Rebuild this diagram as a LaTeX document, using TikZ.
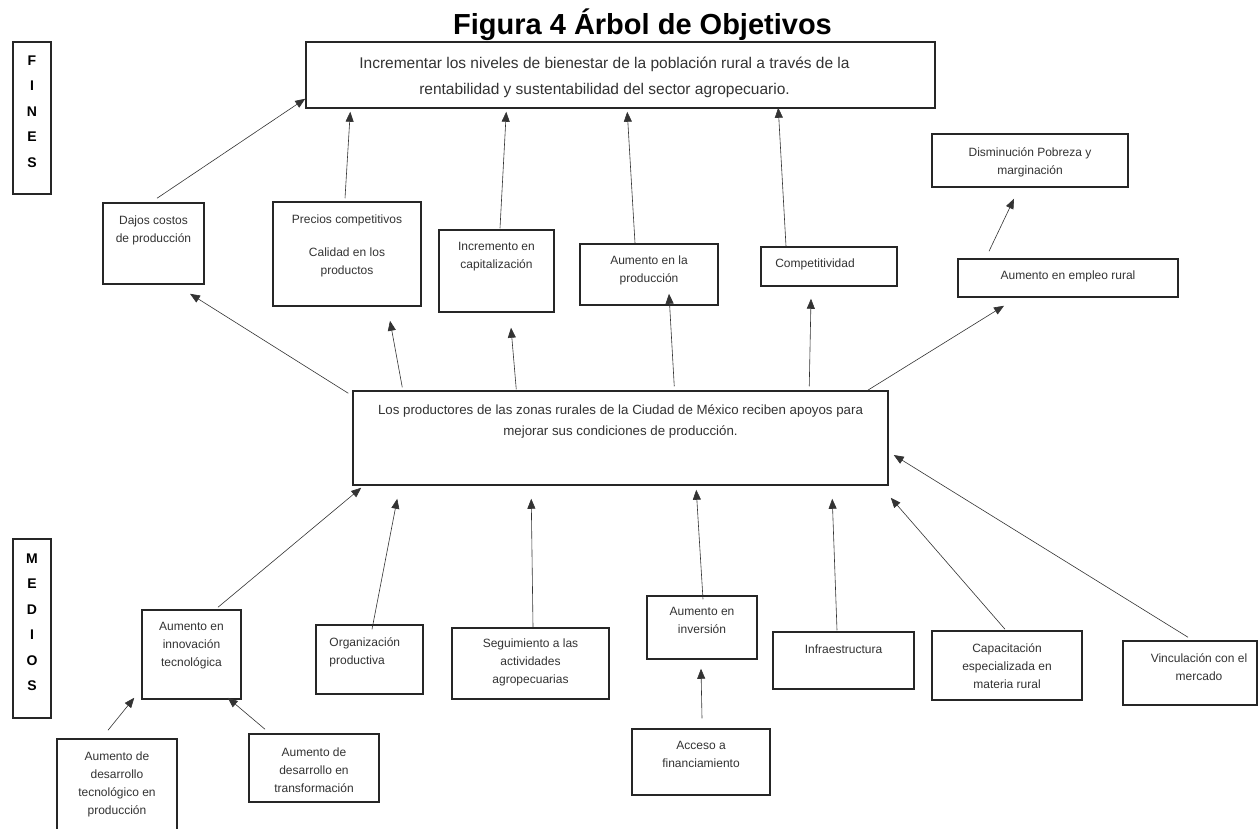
\documentclass[tikz,border=0pt]{standalone}
\usepackage{fontspec}
\setmainfont{Liberation Sans}
\usetikzlibrary{arrows.meta,positioning,calc}
\begin{document}
\begin{tikzpicture}[x=1pt,y=-1pt,
  box/.style={draw=black!85, line width=1.5pt, inner sep=0pt},
  txt/.style={font=\fontsize{12}{18}\selectfont, text=black!80, align=center, inner sep=0pt},
  sidetxt/.style={font=\fontsize{14}{25.5}\selectfont\bfseries, align=center, inner sep=0pt},
  arr/.style={draw=black!80, line width=0.6pt, -{Triangle[length=10pt,width=8pt]}}]
\useasboundingbox (0,0) rectangle (1260,829);
\fill[white] (0,0) rectangle (1260,829);
\node[font=\fontsize{29}{30}\selectfont\bfseries] (titulo) at (642.5,25) {Figura 4 Árbol de Objetivos};
\node[box, minimum width=38, minimum height=152] (fines) at (32,118) {};
\node[sidetxt, below=14pt of fines.north] (finesT) {F\\I\\N\\E\\S};
\node[box, minimum width=38, minimum height=179] (medios) at (32,628.5) {};
\node[sidetxt, below=15pt of medios.north] (mediosT) {M\\E\\D\\I\\O\\S};
\node[box, minimum width=629, minimum height=66] (fin) at (620.5,75) {};
\node[txt, font=\fontsize{15.5}{26}\selectfont, below=16pt of fin.north, xshift=-16pt] (finT)
  {Incrementar los niveles de bienestar de la población rural a través de la\\rentabilidad y sustentabilidad del sector agropecuario.};
\node[box, minimum width=101, minimum height=81] (dajos) at (153.5,243.5) {};
\node[txt, below=13pt of dajos.north] (dajosT) {Dajos costos\\de producción};
\node[box, minimum width=148, minimum height=104] (precios) at (347,254) {};
\node[txt, below=13pt of precios.north] (preciosT) {Precios competitivos\\[15pt]Calidad en los\\productos};
\node[box, minimum width=115, minimum height=82] (capital) at (496.5,271) {};
\node[txt, below=13pt of capital.north] (capitalT) {Incremento en\\capitalización};
\node[box, minimum width=138, minimum height=61] (produc) at (649,274.5) {};
\node[txt, below=12pt of produc.north] (producT) {Aumento en la\\producción};
\node[box, minimum width=136, minimum height=39] (compet) at (829,266.5) {};
\node[txt, below=12pt of compet.north, xshift=-14pt] (competT) {Competitividad};
\node[box, minimum width=220, minimum height=38] (empleo) at (1068,278) {};
\node[txt, below=12pt of empleo.north] (empleoT) {Aumento en empleo rural};
\node[box, minimum width=196, minimum height=53] (pobreza) at (1030,160.5) {};
\node[txt, below=14pt of pobreza.north] (pobrezaT) {Disminución Pobreza y\\marginación};
\node[box, minimum width=535, minimum height=94] (central) at (620.5,438) {};
\node[txt, font=\fontsize{13.3}{21}\selectfont, below=14pt of central.north] (centralT)
  {Los productores de las zonas rurales de la Ciudad de México reciben apoyos para\\mejorar sus condiciones de producción.};
\node[box, minimum width=99, minimum height=89] (innov) at (191.5,654.5) {};
\node[txt, below=13pt of innov.north] (innovT) {Aumento en\\innovación\\tecnológica};
\node[box, minimum width=107, minimum height=69] (organiz) at (369.5,659.5) {};
\node[txt, align=left, anchor=north west] (organizT) at ($(organiz.north west)+(14,13)$) {Organización\\productiva};
\node[box, minimum width=157, minimum height=71] (seguim) at (530.5,663.5) {};
\node[txt, below=11pt of seguim.north] (seguimT) {Seguimiento a las\\actividades\\agropecuarias};
\node[box, minimum width=110, minimum height=63] (invers) at (702,627.5) {};
\node[txt, below=12pt of invers.north] (inversT) {Aumento en\\inversión};
\node[box, minimum width=138, minimum height=66] (acceso) at (701,762) {};
\node[txt, below=13pt of acceso.north] (accesoT) {Acceso a\\financiamiento};
\node[box, minimum width=141, minimum height=57] (infra) at (843.5,660.5) {};
\node[txt, below=13pt of infra.north] (infraT) {Infraestructura};
\node[box, minimum width=150, minimum height=69] (capacit) at (1007,665.5) {};
\node[txt, below=13pt of capacit.north] (capacitT) {Capacitación\\especializada en\\materia rural};
\node[box, minimum width=134, minimum height=64] (vincul) at (1190,673) {};
\node[txt, below=13pt of vincul.north, xshift=9pt] (vinculT) {Vinculación con el\\mercado};
\node[box, minimum width=120, minimum height=106] (destec) at (117,792) {};
\node[txt, below=13pt of destec.north] (destecT) {Aumento de\\desarrollo\\tecnológico en\\producción};
\node[box, minimum width=130, minimum height=68] (destrans) at (314,768) {};
\node[txt, below=14pt of destrans.north] (destransT) {Aumento de\\desarrollo en\\transformación};
\draw[arr] ($(dajos.north)+(3.5,-4)$) -- ($(fin.south west)+(0,-10)$);
\draw[arr] ($(precios.north)+(-2,-3)$) -- ($(fin.south west)+(45,3)$);
\draw[arr] ($(capital.north)+(3.5,-1)$) -- ($(fin.south west)+(201,3)$);
\draw[arr] ($(produc.north)+(-14,0)$) -- ($(fin.south west)+(322,3)$);
\draw[arr] ($(compet.north)+(-43,0)$) -- ($(fin.south west)+(473,-1)$);
\draw[arr] ($(empleo.north)+(-79,-7)$) -- ($(pobreza.south)+(-16,11)$);
\draw[arr] ($(central.north west)+(-4,3)$) -- ($(dajos.south)+(36.5,9)$);
\draw[arr] ($(central.north west)+(50,-3)$) -- ($(precios.south)+(43,14)$);
\draw[arr] ($(central.north west)+(164,-1)$) -- ($(capital.south)+(14.5,15)$);
\draw[arr] ($(central.north west)+(322,-4)$) -- ($(produc.south)+(20,-12)$);
\draw[arr] ($(central.north west)+(457,-4)$) -- ($(compet.south)+(-18,12)$);
\draw[arr] ($(central.north east)+(-21,0)$) -- ($(empleo.south)+(-64,8)$);
\draw[arr] ($(innov.north)+(26.5,-2)$) -- ($(central.south west)+(9,2)$);
\draw[arr] ($(organiz.north)+(2.5,5)$) -- ($(central.south west)+(45,13)$);
\draw[arr] ($(seguim.north)+(2.5,0)$) -- ($(central.south west)+(179,13)$);
\draw[arr] ($(invers.north)+(1,4)$) -- ($(central.south west)+(344,4)$);
\draw[arr] ($(infra.north)+(-6.5,-1)$) -- ($(central.south west)+(480,13)$);
\draw[arr] ($(capacit.north)+(-2,-1)$) -- ($(central.south east)+(2,12)$);
\draw[arr] ($(vincul.north)+(-2,-3)$) -- ($(central.east)+(5,17)$);
\draw[arr] ($(acceso.north)+(1,-10)$) -- ($(invers.south)+(-1,9)$);
\draw[arr] ($(destec.north)+(-9,-8)$) -- ($(innov.south west)+(-7,-2)$);
\draw[arr] ($(destrans.north)+(-49,-4)$) -- ($(innov.south east)+(-14,-2)$);
\end{tikzpicture}
\end{document}
